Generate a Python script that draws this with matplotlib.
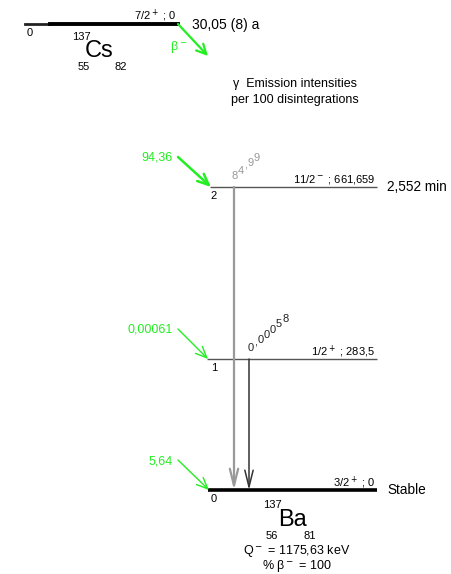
import numpy as np
import matplotlib.pyplot as plt

plt.rcParams['font.family'] = ['Liberation Sans', 'DejaVu Sans']

# Schema de desintegration Cs-137 -> Ba-137
parent = "Cs"
parent_A, parent_Z, parent_N = "137", "55", "82"
parent_spin = "7/2$^+$ ; 0"
parent_halflife = "30,05 (8) a"

daughter = "Ba"
daughter_A, daughter_Z, daughter_N = "137", "56", "81"
q_value = "Q$^-$ = 1175,63 keV"
beta_pct = "% β$^-$ = 100"

# niveaux du noyau fils
level_num = [0, 1, 2]
level_energy = ["0", "283,5", "661,659"]
level_spin = ["3/2$^+$", "1/2$^+$", "11/2$^-$"]
level_halflife = ["Stable", "", "2,552 min"]
beta_int = ["5,64", "0,00061", "94,36"]

# transitions gamma (niveau de depart -> fondamental)
gamma_from = [2, 1]
gamma_int = ["84,99", "0,00058"]

# mise en page (pixels)
level_y = [490, 359, 187]
level_x0 = [208, 207, 210]
level_x1 = 377
level_style = [dict(color='black', lw=2.6), dict(color='#555555', lw=1.0),
               dict(color='#555555', lw=1.0)]
gamma_x = [234, 249]
gamma_style = [dict(color='#999999', lw=1.6), dict(color='#333333', lw=1.1)]
gamma_lab_pos = [(232, 179), (248, 351)]
gamma_lab_col = ['#999999', '#222222']
green = '#22ee22'

fig = plt.figure(figsize=(4.51, 5.74), dpi=100)
ax = fig.add_axes([0, 0, 1, 1])
ax.set_xlim(0, 451)
ax.set_ylim(574, 0)
ax.axis('off')


def stair_text(x, y, s, color, size=8, rise=0.85):
    # chiffres droits poses en escalier le long d'une diagonale
    for ch in s:
        ax.text(x, y, ch, fontsize=size, color=color, ha='left', va='baseline')
        adv = (0.28 if ch in ",." else 0.556) * size * 100 / 72
        x += adv
        y -= adv * rise


# noyau pere
ax.plot([25, 50], [24, 24], color='#222222', lw=2.0)
ax.plot([50, 178], [24, 24], color='black', lw=2.8)
ax.text(176, 19, parent_spin, fontsize=8, ha='right', va='baseline')
ax.text(30, 36, "0", fontsize=8, ha='center', va='baseline')
ax.text(81, 40, parent_A, fontsize=8, ha='center', va='baseline')
ax.text(99, 57, parent, fontsize=17, ha='center', va='baseline')
ax.text(84, 70, parent_Z, fontsize=8, ha='center', va='baseline')
ax.text(121, 70, parent_N, fontsize=8, ha='center', va='baseline')
ax.text(192, 29, parent_halflife, fontsize=10, ha='left', va='baseline')
ax.annotate("", xy=(208, 56), xytext=(178, 24),
            arrowprops=dict(arrowstyle='->,head_length=0.7,head_width=0.35',
                            color=green, lw=1.6, shrinkA=0, shrinkB=0))
ax.text(170, 50, "β$^-$", fontsize=9, color=green, ha='left', va='baseline')

ax.text(295, 87, "γ  Emission intensities", fontsize=9, ha='center', va='baseline')
ax.text(295, 103, "per 100 disintegrations", fontsize=9, ha='center', va='baseline')

# niveaux du fils
for i in level_num:
    y = level_y[i]
    ax.plot([level_x0[i], level_x1], [y, y], solid_capstyle='butt', **level_style[i])
    ax.text(375, y - 4, level_spin[i] + " ; " + level_energy[i], fontsize=8,
            ha='right', va='baseline')
    ax.text(214, y + 12, str(level_num[i]), fontsize=8, ha='center', va='baseline')
    if level_halflife[i]:
        ax.text(387, y + 4, level_halflife[i], fontsize=9.8, ha='left',
                va='baseline')
    # alimentation beta
    lw = 1.8 if i == 2 else 1.0
    ax.annotate("", xy=(level_x0[i] + 1, y), xytext=(178, y - 30),
                arrowprops=dict(arrowstyle='->,head_length=0.8,head_width=0.35',
                                color=green, lw=lw, shrinkA=0, shrinkB=0))
    ax.text(173, y - 26, beta_int[i], fontsize=9, color=green, ha='right',
            va='baseline')

# transitions gamma
for k, lv in enumerate(gamma_from):
    x = gamma_x[k]
    ax.annotate("", xy=(x, level_y[0]), xytext=(x, level_y[lv]),
                arrowprops=dict(arrowstyle='->,head_length=1.2,head_width=0.3',
                                shrinkA=0, shrinkB=0, **gamma_style[k]))
    stair_text(*gamma_lab_pos[k], gamma_int[k], gamma_lab_col[k])

# noyau fils
ax.text(272, 508, daughter_A, fontsize=8, ha='center', va='baseline')
ax.text(293, 526, daughter, fontsize=17, ha='center', va='baseline')
ax.text(272, 539, daughter_Z, fontsize=8, ha='center', va='baseline')
ax.text(310, 539, daughter_N, fontsize=8, ha='center', va='baseline')
ax.text(297, 554, q_value, fontsize=9, ha='center', va='baseline')
ax.text(297, 569, beta_pct, fontsize=9, ha='center', va='baseline')

plt.savefig('out.png', dpi=100)
